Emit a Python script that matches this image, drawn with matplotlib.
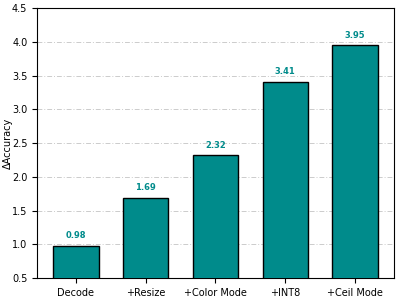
import matplotlib
matplotlib.use('Agg')
import matplotlib.pyplot as plt
import numpy as np

# data
labels = ['Decode', '+Resize', '+Color Mode', '+INT8', '+Ceil Mode']
values = [0.98, 1.69, 2.32, 3.41, 3.95]

color = '#008b8b'

fig = plt.figure(figsize=(3.99, 2.98), dpi=100)
ax = fig.add_axes([0.093, 0.067, 0.894, 0.906])

x = np.arange(len(labels))
bars = ax.bar(x, values, width=0.65, color=color, edgecolor='black', linewidth=1.0, zorder=3)

for b, v in zip(bars, values):
    ax.text(b.get_x() + b.get_width() / 2, v + 0.08, f'{v:.2f}', ha='center', va='bottom',
            fontsize=6, fontweight='bold', color=color)

ax.set_ylim(0.5, 4.5)
ax.set_xticks(x)
ax.set_xticklabels(labels, fontsize=7)
ax.tick_params(axis='y', labelsize=7)
ax.set_ylabel('ΔAccuracy', fontsize=7)
ax.yaxis.set_label_coords(-0.068, 0.5)
ax.yaxis.grid(True, linestyle=(0, (5, 2, 1, 2)), color='#cccccc', linewidth=0.7, zorder=0)
ax.set_axisbelow(True)

fig.savefig('out.png', dpi=100)
